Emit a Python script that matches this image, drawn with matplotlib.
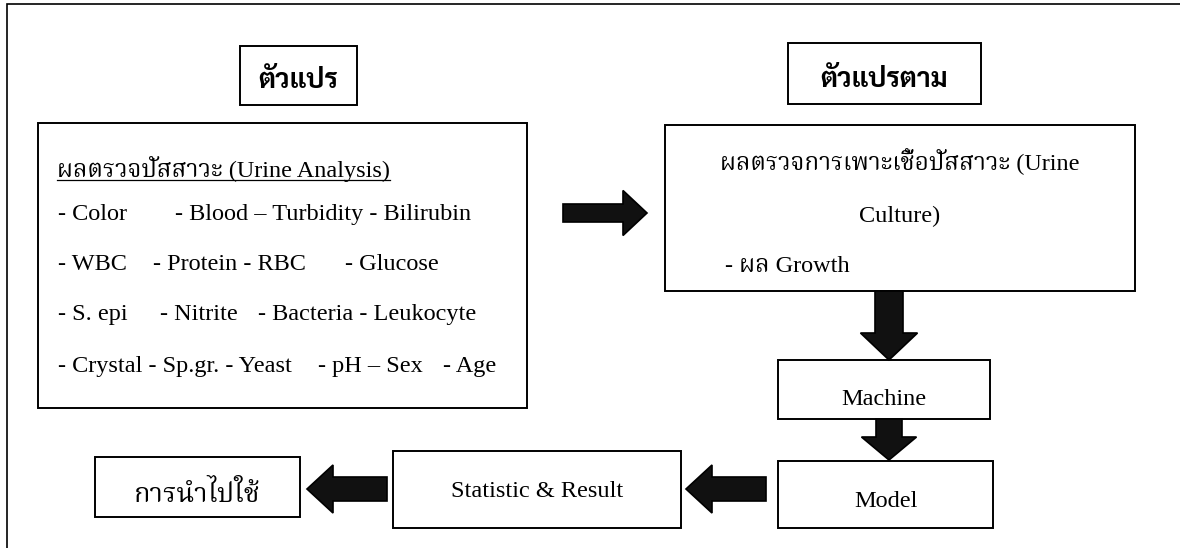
import matplotlib
matplotlib.use('Agg')
import matplotlib.pyplot as plt
from matplotlib.patches import Rectangle, Polygon

plt.rcParams['font.family'] = ['Liberation Serif', 'Noto Serif Thai']

W, H = 1180, 548

# boxes as (left, top, right, bottom) in pixels, origin top-left
box_var = (240, 46, 357, 105)
box_dep = (788, 43, 981, 104)
box_urine = (38, 123, 527, 408)
box_culture = (665, 125, 1135, 291)
box_machine = (778, 360, 990, 419)
box_model = (778, 461, 993, 528)
box_stats = (393, 451, 681, 528)
box_use = (95, 457, 300, 517)
boxes = [box_var, box_dep, box_urine, box_culture, box_machine, box_model, box_stats, box_use]

# arrows: tail x, tail y, tip x, tip y, shaft width, head width, head length
arrows = [
    (563, 213, 647, 213, 18, 45, 24),
    (889, 291, 889, 360, 28, 57, 27),
    (889, 419, 889, 460, 26, 55, 23),
    (766, 489, 686, 489, 24, 48, 26),
    (387, 489, 307, 489, 24, 48, 26),
]

title_var = 'ตัวแปร'
title_dep = 'ตัวแปรตาม'
urine_head = 'ผลตรวจปัสสาวะ (Urine Analysis)'
# each row: baseline y, list of (x start, text)
urine_rows = [
    (220, [(58, '- Color'), (175, '- Blood – Turbidity - Bilirubin')]),
    (270, [(58, '- WBC'), (153, '- Protein - RBC'), (345, '- Glucose')]),
    (320, [(58, '- S. epi'), (160, '- Nitrite'), (258, '- Bacteria - Leukocyte')]),
    (372, [(58, '- Crystal - Sp.gr. - Yeast'), (318, '- pH – Sex'), (443, '- Age')]),
]
culture_lines = ['ผลตรวจการเพาะเชื้อปัสสาวะ (Urine', 'Culture)']
culture_item = '- ผล Growth'
machine_label = 'Machine'
model_label = 'Model'
stats_label = 'Statistic & Result'
use_label = 'การนำไปใช้'

FS = 17.5


def arrow_poly(x0, y0, x1, y1, sw, hw, hl):
    dx, dy = x1 - x0, y1 - y0
    L = (dx ** 2 + dy ** 2) ** 0.5
    ux, uy = dx / L, dy / L
    px, py = -uy, ux
    bx, by = x1 - ux * hl, y1 - uy * hl
    pts = [
        (x0 + px * sw / 2, y0 + py * sw / 2),
        (bx + px * sw / 2, by + py * sw / 2),
        (bx + px * hw / 2, by + py * hw / 2),
        (x1, y1),
        (bx - px * hw / 2, by - py * hw / 2),
        (bx - px * sw / 2, by - py * sw / 2),
        (x0 - px * sw / 2, y0 - py * sw / 2),
    ]
    return pts


fig = plt.figure(figsize=(W / 100, H / 100), dpi=100)
ax = fig.add_axes([0, 0, 1, 1])
ax.set_xlim(0, W)
ax.set_ylim(H, 0)
ax.axis('off')

# outer frame (left and top edges only, rest cut off)
ax.plot([7, 7, W], [H, 4, 4], color='black', lw=1.2, solid_joinstyle='miter')

for (l, t, r, b) in boxes:
    ax.add_patch(Rectangle((l, t), r - l, b - t, fill=False, ec='black', lw=1.4))

for a in arrows:
    ax.add_patch(Polygon(arrow_poly(*a), closed=True, fc='#111111', ec='black', lw=1.2))

thai_bold = dict(family=['Sarabun', 'Noto Sans Thai', 'DejaVu Sans'], weight='bold', fontsize=19.5)
ax.text((box_var[0] + box_var[2]) / 2, 88, title_var, ha='center', va='baseline', **thai_bold)
ax.text((box_dep[0] + box_dep[2]) / 2, 87, title_dep, ha='center', va='baseline', **thai_bold)

head = ax.text(57, 177, urine_head, ha='left', va='baseline', fontsize=FS)
for y, segs in urine_rows:
    for x, s in segs:
        ax.text(x, y, s, ha='left', va='baseline', fontsize=FS)

cx = (box_culture[0] + box_culture[2]) / 2
ax.text(cx, 170, culture_lines[0], ha='center', va='baseline', fontsize=FS)
ax.text(cx, 222, culture_lines[1], ha='center', va='baseline', fontsize=FS)
ax.text(725, 272, culture_item, ha='left', va='baseline', fontsize=FS)

ax.text((box_machine[0] + box_machine[2]) / 2, 405, machine_label, ha='center', va='baseline', fontsize=FS)
ax.text((box_model[0] + box_model[2]) / 2, 507, model_label, ha='center', va='baseline', fontsize=FS)
ax.text((box_stats[0] + box_stats[2]) / 2, 497, stats_label, ha='center', va='baseline', fontsize=FS)
ax.text((box_use[0] + box_use[2]) / 2, 502, use_label, ha='center', va='baseline', fontsize=FS + 2)

# underline the heading of the left box
fig.canvas.draw()
bb = head.get_window_extent().transformed(ax.transData.inverted())
ax.plot([bb.x0, bb.x1], [180, 180], color='black', lw=0.9)

fig.savefig('out.png', dpi=100)
